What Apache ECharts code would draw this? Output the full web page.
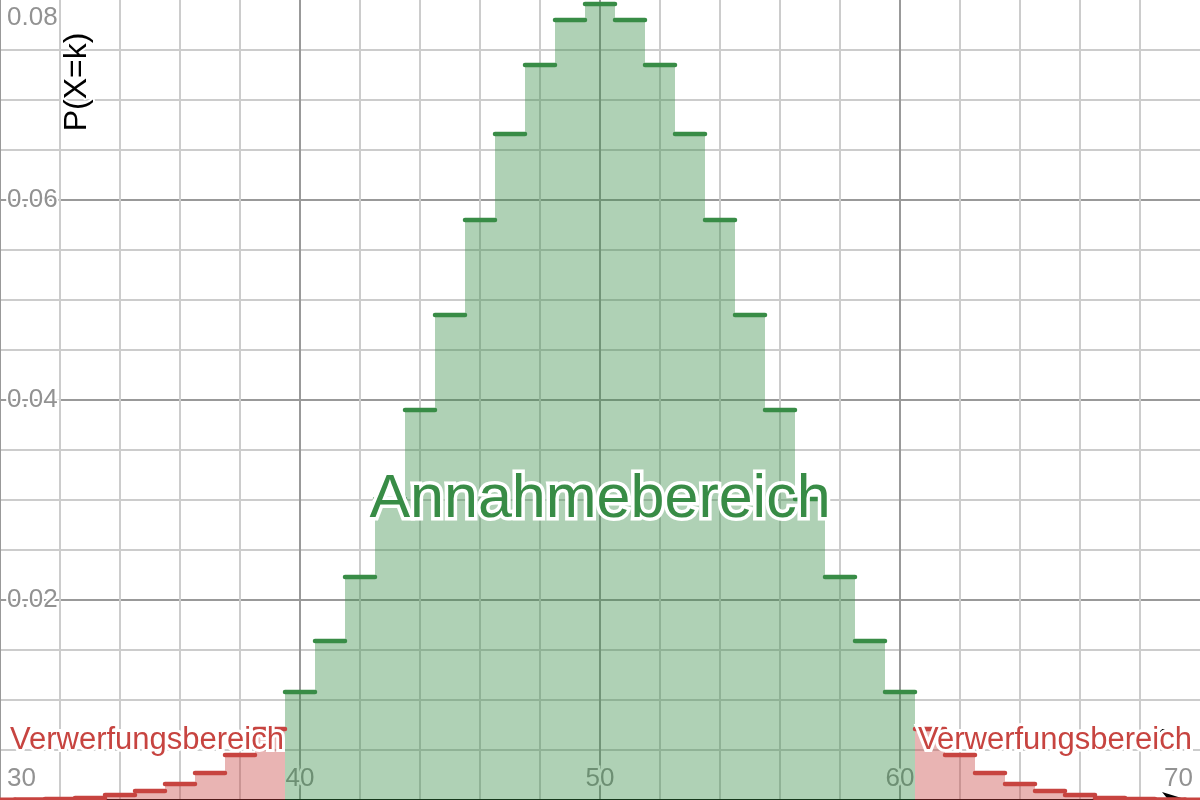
<!DOCTYPE html>
<html><head><meta charset="utf-8">
<script src="https://cdn.jsdelivr.net/npm/echarts@6/dist/echarts.min.js"></script>
<style>html,body{margin:0;padding:0;background:#fff}#chart{width:1200px;height:800px}</style>
</head><body><div id="chart"></div>
<script>
// Binomial probabilities (P(X=k))
const leftRejectK = [30, 31, 32, 33, 34, 35, 36, 37, 38, 39];
const leftRejectP = [0.00002, 0.00005, 0.0001, 0.0002, 0.0005, 0.0009, 0.0016, 0.0027, 0.0045, 0.0071];
const acceptK = [40, 41, 42, 43, 44, 45, 46, 47, 48, 49, 50, 51, 52, 53, 54, 55, 56, 57, 58, 59, 60];
const acceptP = [0.0108, 0.0159, 0.0223, 0.0301, 0.0390, 0.0485, 0.0580, 0.0666, 0.0735, 0.0780, 0.0796,
                 0.0780, 0.0735, 0.0666, 0.0580, 0.0485, 0.0390, 0.0301, 0.0223, 0.0159, 0.0108];
const rightRejectK = [61, 62, 63, 64, 65, 66, 67, 68, 69, 70];
const rightRejectP = [0.0071, 0.0045, 0.0027, 0.0016, 0.0009, 0.0005, 0.0002, 0.0001, 0.00005, 0.00002];
const xTickLabels = [30, 40, 50, 60, 70];
const yTickLabels = [0.02, 0.04, 0.06, 0.08];

const FONT = '"Liberation Sans", Arial, sans-serif';
const GREEN = '#388c46', GREEN_FILL = 'rgba(56,140,70,0.4)';
const RED = '#c74440', RED_FILL = 'rgba(199,68,64,0.4)';
const MAJOR = '#999999', MINOR = '#cccccc';

function zip(ks, ps) { return ks.map((k, i) => [k, ps[i]]); }

function fillSeries(ks, ps, fill) {
  return {
    type: 'custom', clip: true, z: 2, silent: true,
    data: zip(ks, ps),
    renderItem: function (params, api) {
      const k = api.value(0), p = api.value(1);
      const a = api.coord([k - 0.5, p]);
      const b = api.coord([k + 0.5, 0]);
      return { type: 'rect', shape: { x: a[0], y: a[1], width: b[0] - a[0], height: b[1] - a[1] }, style: { fill: fill } };
    }
  };
}
function stepSeries(ks, ps, stroke) {
  return {
    type: 'custom', clip: true, z: 3, silent: true,
    data: zip(ks, ps),
    renderItem: function (params, api) {
      const k = api.value(0), p = api.value(1);
      const a = api.coord([k - 0.5, p]);
      const b = api.coord([k + 0.5, p]);
      return { type: 'line', shape: { x1: a[0], y1: a[1], x2: b[0], y2: b[1] }, style: { stroke: stroke, lineWidth: 4.5, lineCap: 'round' } };
    }
  };
}

const chart = echarts.init(document.getElementById('chart'), null, { renderer: 'canvas' });
chart.setOption({
  animation: false,
  backgroundColor: '#fff',
  grid: { left: 0, right: 0, top: 0, bottom: 0, containLabel: false, outerBoundsMode: 'none' },
  xAxis: {
    type: 'value', min: 30, max: 70, interval: 2,
    axisLine: { show: true, onZero: false, symbol: ['none', 'arrow'], symbolSize: [12, 26], symbolOffset: [0, -12],
      lineStyle: { color: '#000', width: 3 } },
    axisTick: { show: false },
    axisLabel: {
      inside: true, margin: 8, fontSize: 26, fontFamily: FONT, color: '#929292',
      padding: [0, 7, 0, 7],
      alignMinLabel: 'left', alignMaxLabel: 'right',
      textBorderColor: '#fff', textBorderWidth: 5,
      formatter: v => xTickLabels.indexOf(Math.round(v)) >= 0 && Math.abs(v - Math.round(v)) < 1e-9 ? String(Math.round(v)) : ''
    },
    splitLine: { show: true, showMaxLine: false, lineStyle: { width: 2, color: [MAJOR, MINOR, MINOR, MINOR, MINOR] } }
  },
  yAxis: {
    type: 'value', min: 0, max: 0.08, interval: 0.005,
    axisLine: { show: false }, axisTick: { show: false },
    axisLabel: {
      inside: true, margin: 7, fontSize: 26, fontFamily: FONT, color: '#929292', lineHeight: 36,
      verticalAlignMaxLabel: 'top', showMinLabel: false,
      textBorderColor: '#fff', textBorderWidth: 4,
      formatter: v => {
        const hit = yTickLabels.find(t => Math.abs(t - v) < 1e-9);
        return hit !== undefined ? hit.toFixed(2) : '';
      }
    },
    splitLine: { show: true, showMaxLine: false, lineStyle: { width: 2, color: [MAJOR, MINOR, MINOR, MINOR] } }
  },
  series: [
    fillSeries(leftRejectK, leftRejectP, RED_FILL),
    fillSeries(acceptK, acceptP, GREEN_FILL),
    fillSeries(rightRejectK, rightRejectP, RED_FILL),
    stepSeries(leftRejectK, leftRejectP, RED),
    stepSeries(acceptK, acceptP, GREEN),
    stepSeries(rightRejectK, rightRejectP, RED)
  ],
  graphic: [
    { type: 'text', z: 100, x: 77, y: 82, rotation: Math.PI / 2,
      style: { text: 'P(X=k)', fontSize: 32, fontFamily: FONT, fill: '#000', align: 'center', verticalAlign: 'middle',
        stroke: '#fff', lineWidth: 4 } },
    { type: 'text', z: 99, x: 1151, y: 736,
      style: { text: 'k', fontSize: 26, fontStyle: 'italic', fontFamily: FONT, fill: '#000', align: 'left', verticalAlign: 'middle' } },
    { type: 'text', z: 100, x: 600, y: 500,
      style: { text: 'Annahmebereich', fontSize: 61, fontFamily: FONT, fill: GREEN, align: 'center', verticalAlign: 'middle',
        stroke: '#fff', lineWidth: 7 } },
    { type: 'text', z: 100, x: 10, y: 740,
      style: { text: 'Verwerfungsbereich', fontSize: 31, fontFamily: FONT, fill: RED, align: 'left', verticalAlign: 'middle',
        stroke: '#fff', lineWidth: 6 } },
    { type: 'text', z: 100, x: 918, y: 740,
      style: { text: 'Verwerfungsbereich', fontSize: 31, fontFamily: FONT, fill: RED, align: 'left', verticalAlign: 'middle',
        stroke: '#fff', lineWidth: 6 } }
  ]
});
</script>
</body></html>
